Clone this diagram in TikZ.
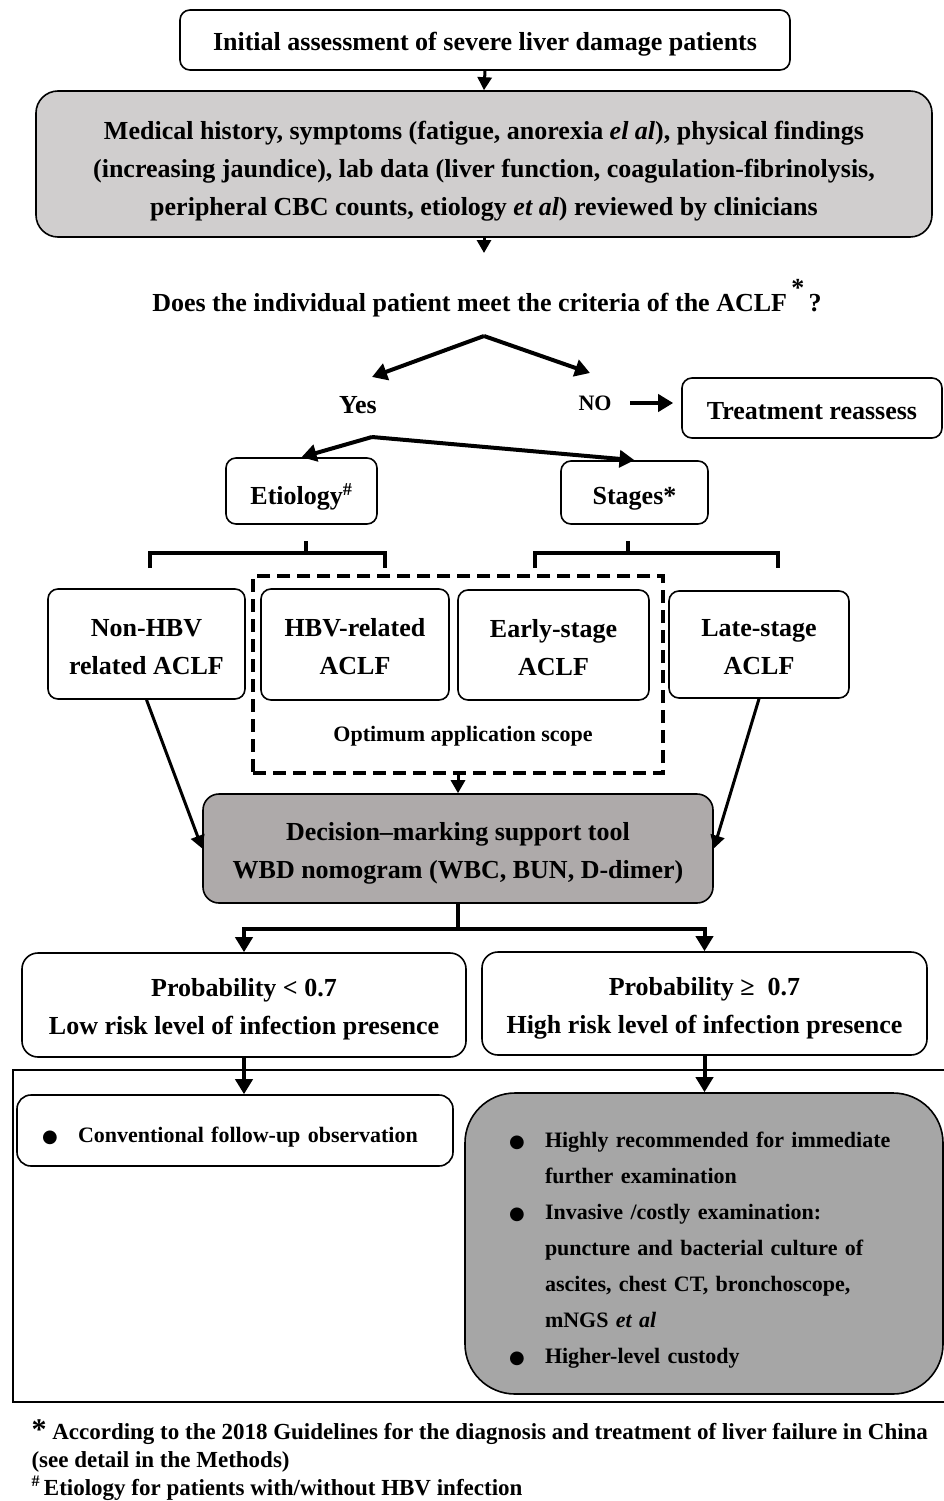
\documentclass[tikz,border=0pt]{standalone}
\usepackage{fontspec}
\setmainfont{Liberation Serif}
\newfontfamily\symfont{DejaVu Sans}
\usetikzlibrary{arrows.meta, positioning, calc}
\definecolor{lightgrey}{RGB}{208,206,206}
\definecolor{toolgrey}{RGB}{174,170,170}
\definecolor{advgrey}{RGB}{166,166,166}
\newcommand{\bigsize}{\fontsize{26}{38}\selectfont\bfseries}
\newcommand{\smallsize}{\fontsize{22}{36}\selectfont\bfseries}
\newcommand{\notesize}{\fontsize{23}{28}\selectfont\bfseries}
\newcommand{\dotitem}{\makebox[36pt][l]{{\symfont\fontsize{18}{18}\selectfont ●}}}
\newcommand{\drop}[1]{\rule{0pt}{#1pt}}
\tikzset{
    box/.style={rectangle, rounded corners=10pt, draw, line width=1.6pt, fill=white, align=center, font=\bigsize},
    greybox/.style={box, fill=lightgrey, rounded corners=22pt},
    scopebox/.style={draw, line width=4pt, dash pattern=on 13pt off 7pt},
    arrow/.style={line width=3pt, -{Triangle[width=14pt,length=13pt]}},
    heavy/.style={line width=4pt, -{Triangle[width=17pt,length=15pt]}},
    bracket/.style={line width=3.2pt}
}

\begin{document}
\begin{tikzpicture}[x=1pt, y=-1pt, every node/.style={font=\bigsize}]
    \useasboundingbox (0,0) rectangle (944,1501);

    % Assessment
    \node (init) [box, minimum width=610, minimum height=60] at (485,40) {\drop{26}Initial assessment of severe liver damage patients};
    \node (history) [greybox, minimum width=896, minimum height=146] at (484,164) {\drop{32}Medical history, symptoms (fatigue, anorexia \textit{el al}), physical findings\\(increasing jaundice), lab data (liver function, coagulation-fibrinolysis,\\peripheral CBC counts, etiology \textit{et al}) reviewed by clinicians};
    \node (question) at (487,298) {Does the individual patient meet the criteria of the ACLF\,\raisebox{0.6em}{*}\,?};
    \coordinate (qin) at (484,253);

    % Decision
    \coordinate (split) at (484,336);
    \coordinate (yesin) at (372,377);
    \coordinate (noin) at (590,373);
    \node (yes) [font=\fontsize{26}{30}\selectfont\bfseries] at (358,405) {Yes};
    \node (no) [font=\fontsize{22}{30}\selectfont\bfseries] at (595,403) {NO};
    \node (treat) [box, minimum width=260, minimum height=60] at (812,408) {\drop{23}Treatment reassess};
    \coordinate (yesout) at (372,437);
    \node (etio) [box, minimum width=151, minimum height=66] at (301.5,491) {\drop{32}Etiology\textsuperscript{\#}};
    \node (stage) [box, minimum width=147, minimum height=63] at (634.5,492.5) {\drop{30}Stages*};

    % Brackets
    \draw [bracket] (150,568) -- (150,553) -- (385,553) -- (385,568) (306,553) -- (306,541);
    \draw [bracket] (535,568) -- (535,553) -- (778,553) -- (778,568) (628,553) -- (628,541);

    % Groups
    \node (scope) [scopebox, minimum width=410, minimum height=197] at (458,674.5) {};
    \node (scopelabel) [font=\smallsize] at (463,736) {Optimum application scope};
    \node (nonhbv) [box, minimum width=197, minimum height=110] at (146.5,644) {\drop{23}Non-HBV\\related ACLF};
    \node (hbv) [box, minimum width=188, minimum height=111] at (355,644.5) {\drop{23}HBV-related\\ACLF};
    \node (early) [box, minimum width=191, minimum height=110] at (553.5,645) {\drop{23}Early-stage\\ACLF};
    \node (late) [box, minimum width=180, minimum height=107] at (759,644.5) {\drop{23}Late-stage\\ACLF};

    % Tool and outcome
    \node (tool) [box, fill=toolgrey, rounded corners=16pt, minimum width=510, minimum height=109] at (458,848.5) {\drop{28}Decision–marking support tool\\WBD nomogram (WBC, BUN, D-dimer)};
    \node (lowp) [box, rounded corners=16pt, minimum width=444, minimum height=104] at (244,1005) {\drop{26}Probability < 0.7\\Low risk level of infection presence};
    \node (highp) [box, rounded corners=16pt, minimum width=445, minimum height=103] at (704.5,1003.5) {\drop{28}Probability ≥\ \ 0.7\\High risk level of infection presence};

    \draw [line width=1.6pt] (13,1070) rectangle (948,1402);
    \node (conv) [box, rounded corners=14pt, minimum width=436, minimum height=71, text width=386, align=left, font=\smallsize] at (235,1130.5) {\drop{29}\dotitem Conventional follow-up observation};
    \node (advice) [box, fill=advgrey, rounded corners=50pt, minimum width=478, minimum height=301, text width=390, align=left, font=\smallsize] at (704,1243.5) {\drop{29}\dotitem Highly recommended for immediate\\
        \hspace*{36pt}further examination\\
        \dotitem Invasive /costly examination:\\
        \hspace*{36pt}puncture and bacterial culture of\\
        \hspace*{36pt}ascites, chest CT, bronchoscope,\\
        \hspace*{36pt}mNGS \textit{et al}\\
        \dotitem Higher-level custody};

    % Notes
    \node (notes) [anchor=north west, align=left, font=\notesize] at (28,1416) {{\fontsize{30}{30}\selectfont *}\ According to the 2018 Guidelines for the diagnosis and treatment of liver failure in China\\(see detail in the Methods)\\\textsuperscript{\#}\,Etiology for patients with/without HBV infection};

    % Arrows
    \draw [arrow] (init.south) -- (history.north);
    \draw [arrow] (history.south) -- (qin);
    \draw [heavy] (split) -- (yesin);
    \draw [heavy] (split) -- (noin);
    \draw [heavy, shorten <=15pt, shorten >=8pt] (no.east) -- (no.east -| treat.west);
    \draw [heavy] (yesout) -- (etio.north);
    \draw [heavy] (yesout) -- (stage.north);
    \draw [arrow] (scope.south) -- (tool.north);
    \draw [arrow] (nonhbv.south) -- (tool.west);
    \draw [arrow] (late.south) -- (tool.east);
    \draw [line width=4.5pt] (tool.south) -- ++(0,25) coordinate (fork);
    \draw [heavy] (fork) -| (lowp.north);
    \draw [heavy] (fork) -| (highp.north);
    \draw [heavy] (lowp.south) -- (lowp.south |- conv.north);
    \draw [heavy] (highp.south) -- (highp.south |- advice.north);
\end{tikzpicture}
\end{document}
